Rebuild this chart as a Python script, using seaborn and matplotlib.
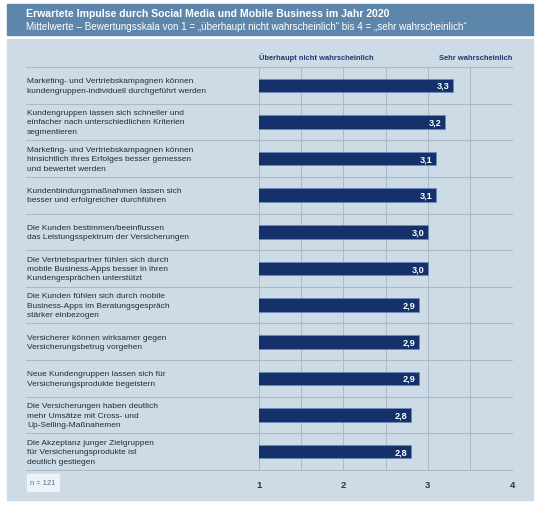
import matplotlib
matplotlib.use('Agg')
import matplotlib.pyplot as plt
import matplotlib.transforms as mtransforms
from matplotlib.patches import Rectangle
import seaborn as sns
import pandas as pd

sns.set_theme(style="white")
plt.rcParams['font.family'] = ['Liberation Sans', 'DejaVu Sans']

# ── data ──────────────────────────────────────────────────────────
title = "Erwartete Impulse durch Social Media und Mobile Business im Jahr 2020"
subtitle = ("Mittelwerte \u2013 Bewertungsskala von 1 = \u201e\u00fcberhaupt nicht wahrscheinlich\u201c"
            " bis 4 = \u201esehr wahrscheinlich\u201c")
statements = [
    "Marketing- und Vertriebskampagnen können\nkundengruppen-individuell durchgeführt werden",
    "Kundengruppen lassen sich schneller und\neinfacher nach unterschiedlichen Kriterien\nsegmentieren",
    "Marketing- und Vertriebskampagnen können\nhinsichtlich ihres Erfolges besser gemessen\nund bewertet werden",
    "Kundenbindungsmaßnahmen lassen sich\nbesser und erfolgreicher durchführen",
    "Die Kunden bestimmen/beeinflussen\ndas Leistungsspektrum der Versicherungen",
    "Die Vertriebspartner fühlen sich durch\nmobile Business-Apps besser in ihren\nKundengesprächen unterstützt",
    "Die Kunden fühlen sich durch mobile\nBusiness-Apps im Beratungsgespräch\nstärker einbezogen",
    "Versicherer können wirksamer gegen\nVersicherungsbetrug vorgehen",
    "Neue Kundengruppen lassen sich für\nVersicherungsprodukte begeistern",
    "Die Versicherungen haben deutlich\nmehr Umsätze mit Cross- und\nUp-Selling-Maßnahemen",
    "Die Akzeptanz junger Zielgruppen\nfür Versicherungsprodukte ist\ndeutlich gestiegen",
]
means = [3.3, 3.2, 3.1, 3.1, 3.0, 3.0, 2.9, 2.9, 2.9, 2.8, 2.8]
ticks = [1, 2, 3, 4]
scale_low = "Überhaupt nicht wahrscheinlich"
scale_high = "Sehr wahrscheinlich"
n_note = "n = 121"

df = pd.DataFrame({"statement": statements, "mean": means})

# ── colours ───────────────────────────────────────────────────────
header_col = "#5e86aa"
panel_col = "#ccdbe6"
bar_col = "#15316b"
grid_col = "#a9b9c6"
navy_text = "#1f3a6e"

W, H = 540, 506
fig = plt.figure(figsize=(W / 100, H / 100), dpi=100)
fig.patch.set_facecolor("white")

# header band and panel
fig.patches.append(Rectangle((7 / W, 1 - 36 / H), 526 / W, 31 / H,
                             transform=fig.transFigure, color=header_col, zorder=-2))
fig.patches.append(Rectangle((7 / W, 1 - 501 / H), 526 / W, 461 / H,
                             transform=fig.transFigure, color=panel_col, zorder=-2))
fig.text(26 / W, 1 - 14 / H, title, color="white", fontsize=7.55,
         fontweight="bold", va="center")
fig.text(26 / W, 1 - 27 / H, subtitle, color="white", fontsize=7.1, va="center")

ax = fig.add_axes([259 / W, 1 - 471 / H, (512 - 259) / W, (471 - 68) / H])
ax.set_facecolor("none")
ax.set_zorder(2)

sns.barplot(data=df, y="statement", x="mean", orient="h", color=bar_col,
            width=0.37, edgecolor="#6c8cbc", linewidth=0.5, ax=ax, zorder=3,
            saturation=1)

ax.set_xlim(1, 4)
ax.set_ylim(len(statements) - 0.5, -0.5)

# vertical grid
for gx in [1 + 0.5 * i for i in range(7)]:
    ax.axvline(gx, color=grid_col, lw=0.7, zorder=1)

# row separators spanning label column too
blend = mtransforms.blended_transform_factory(fig.transFigure, ax.transData)
for i in range(len(statements) + 1):
    ax.plot([26 / W, 512 / W], [i - 0.5, i - 0.5], transform=blend,
            color=grid_col, lw=0.8, clip_on=False, zorder=1)

# labels on the left
for i, s in enumerate(statements):
    ax.text(27 / W, i, s, transform=blend, fontsize=6.0, color="#2b2b2b",
            va="center", ha="left", linespacing=1.5)

# value labels
for i, v in enumerate(means):
    ax.text(v - 0.04, i, f"{v:.1f}".replace(".", ","), color="white",
            fontsize=6.6, fontweight="bold", va="center", ha="right", zorder=4)

ax.set_yticks([])
ax.set_ylabel("")
ax.set_xlabel("")
ax.set_xticks(ticks)
ax.set_xticklabels([str(t) for t in ticks], fontsize=6.8, fontweight="bold",
                   color="#333333")
ax.tick_params(axis="x", length=0, pad=7)
for sp in ax.spines.values():
    sp.set_visible(False)

# scale headers
fig.text(259 / W, 1 - 58 / H, scale_low, color=navy_text, fontsize=5.4,
         fontweight="bold", va="center", ha="left")
fig.text(512 / W, 1 - 58 / H, scale_high, color=navy_text, fontsize=5.4,
         fontweight="bold", va="center", ha="right")

# n note box
fig.patches.append(Rectangle((27 / W, 1 - 492 / H), 32 / W, 17 / H,
                             transform=fig.transFigure, color="#eef3f7", zorder=-1))
fig.text(43 / W, 1 - 483.5 / H, n_note, color="#4d6c8c", fontsize=5.4,
         va="center", ha="center")

fig.savefig("out.png", dpi=100)
